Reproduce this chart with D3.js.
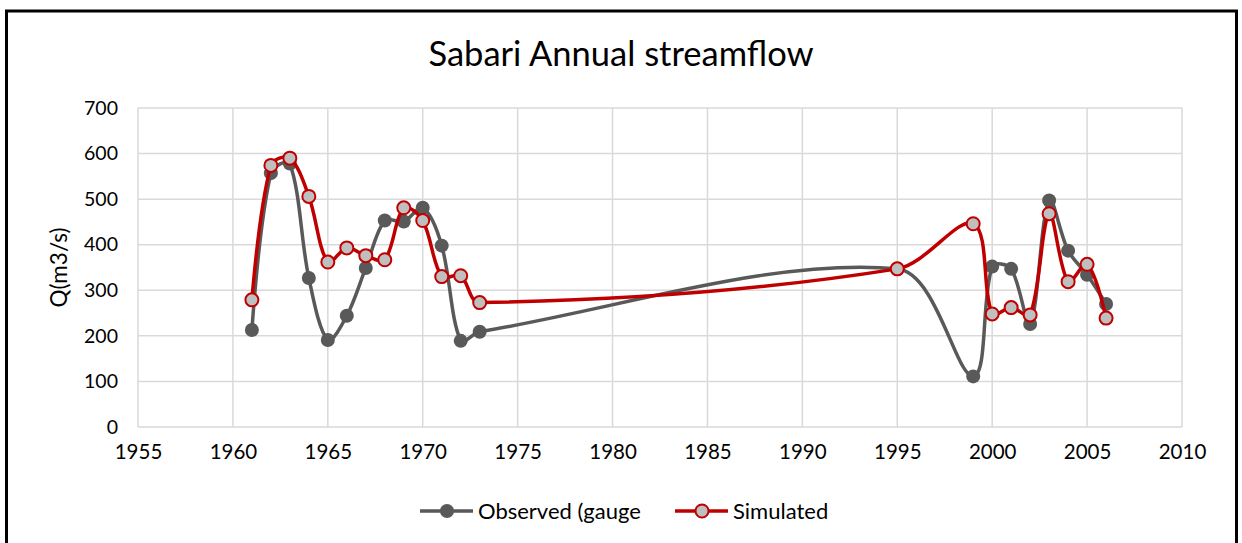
<!DOCTYPE html>
<html>
<head>
<meta charset="utf-8">
<script src="https://cdn.jsdelivr.net/npm/d3@7/dist/d3.min.js"></script>
<style>
  body { margin: 0; background: #fff; }
  text { font-family: "Lato", "Open Sans", sans-serif; fill: #000; }
</style>
</head>
<body>
<div id="chart-area"></div>
<script>

// SVG Size
var width = 1242,
    height = 543;

// Plot area
var plotLeft = 138, plotRight = 1182, plotTop = 108, plotBottom = 427;

// Data
var obsYears = [1961, 1962, 1963, 1964, 1965, 1966, 1967, 1968, 1969, 1970, 1971, 1972, 1973,
                1995, 1999, 2000, 2001, 2002, 2003, 2004, 2005, 2006];
var obsValues = [213, 557, 578, 327, 191, 244, 349, 453, 451, 481, 398, 189, 209,
                 347, 111, 352, 347, 226, 497, 387, 334, 270];

var simYears = [1961, 1962, 1963, 1964, 1965, 1966, 1967, 1968, 1969, 1970, 1971, 1972, 1973,
                1995, 1999, 2000, 2001, 2002, 2003, 2004, 2005, 2006];
var simValues = [279, 574, 590, 506, 362, 393, 376, 367, 481, 453, 330, 332, 273,
                 347, 446, 248, 262, 246, 468, 319, 357, 239];

var xTicks = [1955, 1960, 1965, 1970, 1975, 1980, 1985, 1990, 1995, 2000, 2005, 2010];
var yTicks = [0, 100, 200, 300, 400, 500, 600, 700];

var seriesNames = ["Observed (gauge", "Simulated"];

var svg = d3.select("#chart-area")
    .append("svg")
    .attr("width", width)
    .attr("height", height);

// Chart border
svg.append("rect")
    .attr("x", 6.5)
    .attr("y", 11)
    .attr("width", 1230)
    .attr("height", 560)
    .attr("fill", "none")
    .attr("stroke", "#000")
    .attr("stroke-width", 3);

// Scales
var xScale = d3.scaleLinear()
    .domain([1955, 2010])
    .range([plotLeft, plotRight]);

var yScale = d3.scaleLinear()
    .domain([0, 700])
    .range([plotBottom, plotTop]);

// Gridlines
svg.append("g")
    .selectAll("line")
    .data(xTicks)
    .enter()
    .append("line")
    .attr("x1", d => xScale(d))
    .attr("x2", d => xScale(d))
    .attr("y1", plotTop)
    .attr("y2", plotBottom)
    .attr("stroke", "#d9d9d9")
    .attr("stroke-width", 1.5);

svg.append("g")
    .selectAll("line")
    .data(yTicks)
    .enter()
    .append("line")
    .attr("x1", plotLeft)
    .attr("x2", plotRight)
    .attr("y1", d => yScale(d))
    .attr("y2", d => yScale(d))
    .attr("stroke", "#d9d9d9")
    .attr("stroke-width", 1.5);

// Axes (labels only)
var xAxis = d3.axisBottom(xScale)
    .tickValues(xTicks)
    .tickFormat(d3.format("d"))
    .tickSize(0)
    .tickPadding(17);

var yAxis = d3.axisLeft(yScale)
    .tickValues(yTicks)
    .tickSize(0)
    .tickPadding(20);

svg.append("g")
    .attr("class", "axis x-axis")
    .attr("transform", "translate(0," + plotBottom + ")")
    .call(xAxis)
    .call(g => g.select(".domain").remove())
    .selectAll("text")
    .style("font-size", "20.5px")
    .style("font-family", "Lato");

svg.append("g")
    .attr("class", "axis y-axis")
    .attr("transform", "translate(" + plotLeft + ",0)")
    .call(yAxis)
    .call(g => g.select(".domain").remove())
    .selectAll("text")
    .style("font-size", "19.5px")
    .style("font-family", "Lato");

// Titles
svg.append("text")
    .attr("text-anchor", "middle")
    .attr("x", 621)
    .attr("y", 66)
    .style("font-size", "34.5px")
    .text("Sabari Annual streamflow");

svg.append("text")
    .attr("text-anchor", "middle")
    .attr("transform", "translate(67," + ((plotTop + plotBottom) / 2) + ")rotate(-90)")
    .style("font-size", "22.5px")
    .text("Q(m3/s)");

// Smoothed line: Bezier handles along (next - prev), split by the length of
// each side segment so short gaps don't loop (roughly like the spreadsheet)
function smoothPath(pts) {
    var p = d3.path();
    var n = pts.length;
    var dist = (a, b) => Math.hypot(b[0] - a[0], b[1] - a[1]);
    var handles = pts.map(function(pt, i) {
        if (i == 0 || i == n - 1) return {l: [0, 0], r: [0, 0]};
        var prev = pts[i - 1], next = pts[i + 1];
        var tx = next[0] - prev[0], ty = next[1] - prev[1];
        var dl = dist(prev, pt), dr = dist(pt, next);
        var kl = dl / (dl + dr) / 3 * 1.0, kr = dr / (dl + dr) / 3 * 1.0;
        return {l: [-tx * kl, -ty * kl], r: [tx * kr, ty * kr]};
    });
    // end points: handle towards the next control point
    p.moveTo(pts[0][0], pts[0][1]);
    for (var i = 0; i < n - 1; i++) {
        var a = pts[i], b = pts[i + 1];
        var c1 = [a[0] + handles[i].r[0], a[1] + handles[i].r[1]];
        var c2 = [b[0] + handles[i + 1].l[0], b[1] + handles[i + 1].l[1]];
        if (i == 0) c1 = [a[0] + (c2[0] - a[0]) / 3, a[1] + (c2[1] - a[1]) / 3];
        if (i == n - 2) c2 = [b[0] + (c1[0] - b[0]) / 3, b[1] + (c1[1] - b[1]) / 3];
        p.bezierCurveTo(c1[0], c1[1], c2[0], c2[1], b[0], b[1]);
    }
    return p.toString();
}

var obs = obsYears.map((y, i) => [y, obsValues[i]]);
var sim = simYears.map((y, i) => [y, simValues[i]]);

var toPixels = data => data.map(d => [xScale(d[0]), yScale(d[1])]);

svg.append("path")
    .datum(obs)
    .attr("d", d => smoothPath(toPixels(d)))
    .attr("fill", "none")
    .attr("stroke", "#595959")
    .attr("stroke-width", 3.5);

svg.selectAll("circle.obs")
    .data(obs)
    .enter()
    .append("circle")
    .attr("class", "obs")
    .attr("cx", d => xScale(d[0]))
    .attr("cy", d => yScale(d[1]))
    .attr("r", 7)
    .attr("fill", "#595959");

svg.append("path")
    .datum(sim)
    .attr("d", d => smoothPath(toPixels(d)))
    .attr("fill", "none")
    .attr("stroke", "#c00000")
    .attr("stroke-width", 3.5);

svg.selectAll("circle.sim")
    .data(sim)
    .enter()
    .append("circle")
    .attr("class", "sim")
    .attr("cx", d => xScale(d[0]))
    .attr("cy", d => yScale(d[1]))
    .attr("r", 6.5)
    .attr("fill", "#bfbfbf")
    .attr("stroke", "#c00000")
    .attr("stroke-width", 2);

// Legend
var legend = svg.append("g")
    .attr("transform", "translate(0,511)");

var legendX = [420, 675];
var legendColor = ["#595959", "#c00000"];

seriesNames.forEach(function(name, i) {
    var g = legend.append("g").attr("transform", "translate(" + legendX[i] + ",0)");
    g.append("line")
        .attr("x1", 0).attr("x2", 53)
        .attr("y1", 0).attr("y2", 0)
        .attr("stroke", legendColor[i])
        .attr("stroke-width", 3.5);
    g.append("circle")
        .attr("cx", 27).attr("cy", 0)
        .attr("r", i == 0 ? 7 : 6.5)
        .attr("fill", i == 0 ? "#595959" : "#bfbfbf")
        .attr("stroke", i == 0 ? "none" : "#c00000")
        .attr("stroke-width", 2);
    g.append("text")
        .attr("x", 58)
        .attr("y", 0)
        .attr("dy", "0.35em")
        .style("font-size", "22px")
        .text(name);
});

</script>
</body>
</html>
